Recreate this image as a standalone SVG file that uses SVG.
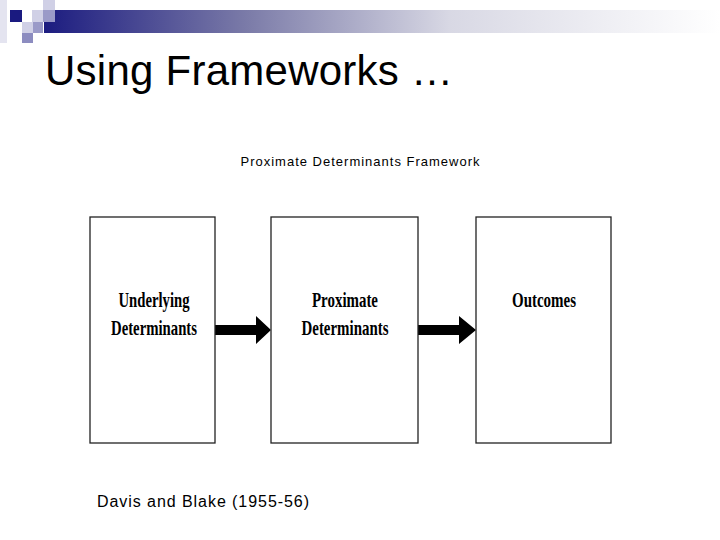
<svg xmlns="http://www.w3.org/2000/svg" width="720" height="540" viewBox="0 0 720 540">
<defs>
<linearGradient id="bar" x1="0" y1="0" x2="1" y2="0">
<stop offset="0" stop-color="#1c1c80"/>
<stop offset="0.3" stop-color="#7b7ba8"/>
<stop offset="0.6" stop-color="#d8d8e4"/>
<stop offset="1" stop-color="#ffffff"/>
</linearGradient>
<style>
.box{fill:#fff;stroke:#222;stroke-width:1.3}
.lbl{font-family:"Liberation Serif","Times New Roman",serif;font-weight:bold;font-size:21px;fill:#000;text-anchor:middle}
.arrow{fill:#000}
</style>
</defs>
<rect width="720" height="540" fill="#fff"/>
<g id="decor">
<rect x="0" y="0" width="7" height="43" fill="#e4e4f0"/>
<rect x="44" y="10" width="676" height="23" fill="url(#bar)"/>
<rect x="10" y="10" width="12" height="12" fill="#1a1a80"/>
<rect x="32" y="10" width="11" height="12" fill="#d0d0e6"/>
<rect x="43" y="10" width="12" height="12" fill="#9a9ac8"/>
<rect x="43" y="0" width="12" height="10" fill="#d0d0e6"/>
<rect x="22" y="22" width="11" height="11" fill="#d0d0e6"/>
<rect x="33" y="22" width="10" height="11" fill="#9a9ac8"/>
<rect x="22" y="33" width="11" height="10" fill="#8c8cc0"/>
</g>
<text x="45" y="85" font-family="Liberation Sans, Arial, sans-serif" font-size="42" textLength="408" fill="#000">Using Frameworks …</text>
<text x="360" y="166" font-family="Liberation Sans, Arial, sans-serif" font-size="13" text-anchor="middle" textLength="239" fill="#000">Proximate Determinants Framework</text>
<g id="connectors">
<polygon class="arrow" points="215,325 256,325 256,316 271,330 256,344 256,335 215,335"/>
<polygon class="arrow" points="418,325 459,325 459,316 476,330 459,344 459,335 418,335"/>
</g>
<g id="underlying">
<rect class="box" x="90" y="217" width="125" height="226"/>
<text class="lbl" x="154" y="307" textLength="71" lengthAdjust="spacingAndGlyphs">Underlying</text>
<text class="lbl" x="154" y="335" textLength="86" lengthAdjust="spacingAndGlyphs">Determinants</text>
</g>
<g id="proximate">
<rect class="box" x="271" y="217" width="147" height="226"/>
<text class="lbl" x="345" y="307" textLength="66" lengthAdjust="spacingAndGlyphs">Proximate</text>
<text class="lbl" x="345" y="335" textLength="87" lengthAdjust="spacingAndGlyphs">Determinants</text>
</g>
<g id="outcomes">
<rect class="box" x="476" y="217" width="135" height="226"/>
<text class="lbl" x="544" y="307" textLength="64" lengthAdjust="spacingAndGlyphs">Outcomes</text>
</g>
<text x="97" y="507" font-family="Liberation Sans, Arial, sans-serif" font-size="16" textLength="212" fill="#000">Davis and Blake (1955-56)</text>
</svg>
